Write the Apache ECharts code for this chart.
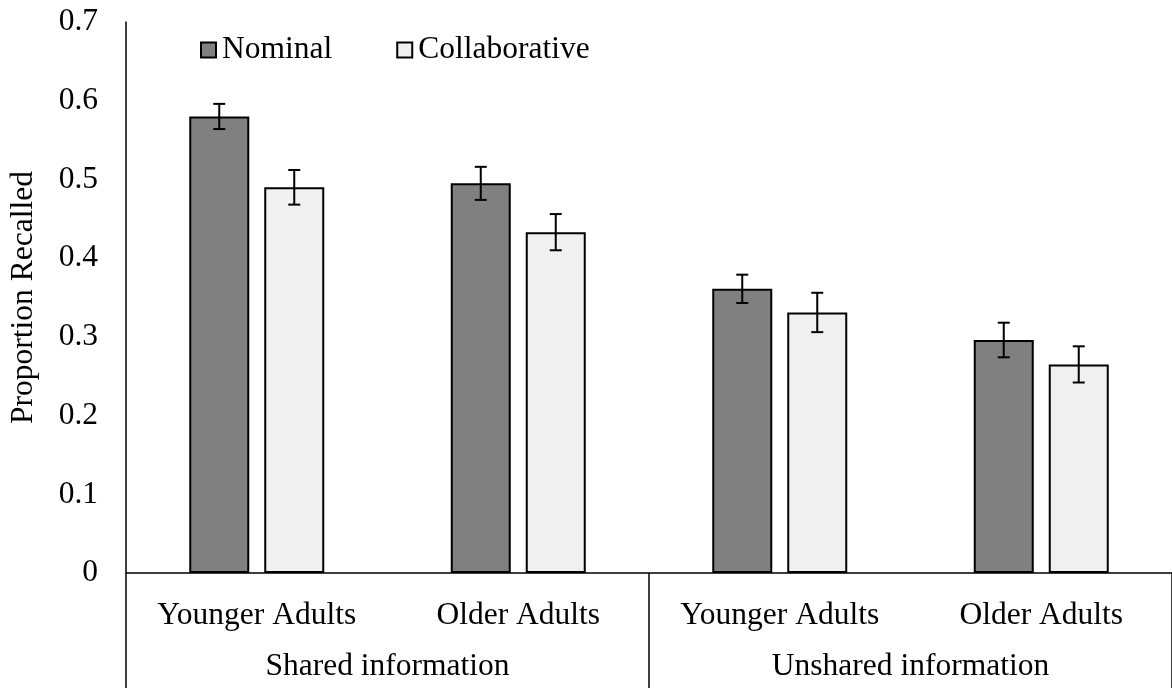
<!DOCTYPE html>
<html>
<head>
<meta charset="utf-8">
<script src="https://cdn.jsdelivr.net/npm/echarts@6/dist/echarts.min.js"></script>
<style>
  html, body { margin: 0; padding: 0; background: #fff; }
  #chart { width: 1172px; height: 688px; }
</style>
</head>
<body>
<div id="chart"></div>
<script>
// Recall proportions by age group, split by information type
const groups = ['Shared information', 'Unshared information'];
const categories = ['Younger Adults', 'Older Adults', 'Younger Adults', 'Older Adults'];
const nominal = [0.580, 0.495, 0.361, 0.296];
const nominalErr = [0.016, 0.021, 0.018, 0.022];
const collaborative = [0.490, 0.433, 0.331, 0.265];
const collaborativeErr = [0.022, 0.023, 0.025, 0.023];
const yTicks = [0, 0.1, 0.2, 0.3, 0.4, 0.5, 0.6, 0.7];

const FONT = 'Liberation Serif';
const FS = 31.5;
const BAR_W = 60;
const BAR_GAP = 15;

function errData(vals, errs) {
  return vals.map((v, i) => [i, v - errs[i], v + errs[i]]);
}

function errorSeries(name, vals, errs, side) {
  return {
    type: 'custom',
    name: name + ' error',
    xAxisIndex: 0,
    yAxisIndex: 0,
    z: 10,
    silent: true,
    data: errData(vals, errs),
    renderItem: function (params, api) {
      const idx = api.value(0);
      const shift = side * (BAR_W + BAR_GAP) / 2;
      const lo = api.coord([idx, api.value(1)]);
      const hi = api.coord([idx, api.value(2)]);
      const x = lo[0] + shift;
      const cap = 6;
      const style = { stroke: '#000', lineWidth: 2 };
      return {
        type: 'group',
        children: [
          { type: 'line', shape: { x1: x, y1: lo[1], x2: x, y2: hi[1] }, style: style },
          { type: 'line', shape: { x1: x - cap, y1: lo[1], x2: x + cap, y2: lo[1] }, style: style },
          { type: 'line', shape: { x1: x - cap, y1: hi[1], x2: x + cap, y2: hi[1] }, style: style }
        ]
      };
    }
  };
}

const chart = echarts.init(document.getElementById('chart'), null, { renderer: 'canvas' });

chart.setOption({
  backgroundColor: '#ffffff',
  animation: false,
  textStyle: { fontFamily: FONT, color: '#000' },
  grid: { left: 125, right: -2, top: 22, bottom: 115 },
  legend: {
    data: ['Nominal', 'Collaborative'],
    left: 195,
    top: 29,
    icon: 'rect',
    itemWidth: 15,
    itemHeight: 15,
    itemGap: 64,
    textStyle: { fontFamily: FONT, fontSize: FS, color: '#000', padding: [0, 0, 0, 1] }
  },
  xAxis: [
    {
      type: 'category',
      data: categories,
      position: 'bottom',
      axisLine: { show: true, lineStyle: { color: '#000', width: 1.5 } },
      axisTick: { show: false },
      axisLabel: { fontFamily: FONT, fontSize: FS, color: '#000', margin: 27, interval: 0 }
    },
    {
      type: 'category',
      data: groups,
      position: 'bottom',
      axisLine: { show: false },
      axisTick: { show: true, length: 120, interval: 0, lineStyle: { color: '#000', width: 1.5 } },
      axisLabel: { fontFamily: FONT, fontSize: FS, color: '#000', margin: 78, interval: 0 }
    }
  ],
  yAxis: {
    type: 'value',
    min: yTicks[0],
    max: yTicks[yTicks.length - 1],
    interval: 0.1,
    name: 'Proportion Recalled',
    nameLocation: 'middle',
    nameGap: 86,
    nameTextStyle: { fontFamily: FONT, fontSize: FS, color: '#000' },
    axisLine: { show: true, lineStyle: { color: '#000', width: 1.5 } },
    axisTick: { show: false },
    splitLine: { show: false },
    axisLabel: {
      fontFamily: FONT, fontSize: FS, color: '#000', margin: 28,
      verticalAlign: 'middle', padding: [3, 0, 0, 0],
      formatter: function (v) { return v === 0 ? '0' : v.toFixed(1); }
    }
  },
  series: [
    {
      type: 'bar',
      name: 'Nominal',
      data: nominal,
      barWidth: BAR_W,
      barGap: (BAR_GAP / BAR_W * 100) + '%',
      itemStyle: { color: '#808080', borderColor: '#000', borderWidth: 2 }
    },
    {
      type: 'bar',
      name: 'Collaborative',
      data: collaborative,
      barWidth: BAR_W,
      itemStyle: { color: '#f0f0f0', borderColor: '#000', borderWidth: 2 }
    },
    errorSeries('Nominal', nominal, nominalErr, -1),
    errorSeries('Collaborative', collaborative, collaborativeErr, 1)
  ]
});
</script>
</body>
</html>
